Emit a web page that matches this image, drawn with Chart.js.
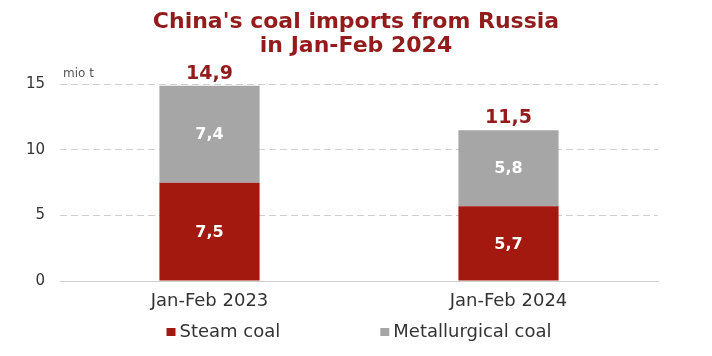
<!DOCTYPE html>
<html>
<head>
<meta charset="utf-8">
<script src="https://cdn.jsdelivr.net/npm/chart.js@4.4.1/dist/chart.umd.min.js"></script>
<style>
  html, body { margin: 0; padding: 0; background: #fff; }
</style>
</head>
<body>
<canvas id="coalChart" width="712" height="356"></canvas>
<script>
// data (mio t)
const periods = ['Jan-Feb 2023', 'Jan-Feb 2024'];
const steamCoal = [7.5, 5.7];
const metCoal = [7.4, 5.8];
const yTicks = [0, 5, 10, 15];

const RED = '#a3180f';
const GREY = '#a6a6a6';
const TITLE_RED = '#921c1c';
const FONT = '"DejaVu Sans", Verdana, sans-serif';

const fmt = v => v.toFixed(1).replace('.', ',');

// labels inside the bars, totals on top, unit, legend
const extras = {
  id: 'extras',
  afterDatasetsDraw(chart) {
    const ctx = chart.ctx;
    ctx.save();
    ctx.textAlign = 'center';
    ctx.textBaseline = 'middle';
    ctx.font = 'bold 16px ' + FONT;
    ctx.fillStyle = '#fff';
    chart.data.datasets.forEach((ds, i) => {
      chart.getDatasetMeta(i).data.forEach((bar, j) => {
        ctx.fillText(fmt(ds.data[j]), bar.x, (bar.y + bar.base) / 2 + 1);
      });
    });
    ctx.font = 'bold 19px ' + FONT;
    ctx.fillStyle = TITLE_RED;
    chart.getDatasetMeta(1).data.forEach((bar, j) => {
      ctx.fillText(fmt(steamCoal[j] + metCoal[j]), bar.x, bar.y - 12);
    });

    // unit
    ctx.textAlign = 'left';
    ctx.font = '12px ' + FONT;
    ctx.fillStyle = '#555';
    ctx.fillText('mio t', chart.chartArea.left + 3, chart.chartArea.top - 11);

    // legend
    ctx.font = '18px ' + FONT;
    const gap = 100, box = 9;
    const items = chart.data.datasets.map(ds => ({
      text: ds.label, color: ds.backgroundColor,
      w: box + 4 + ctx.measureText(ds.label).width
    }));
    const total = items.reduce((s, it) => s + it.w, 0) + gap * (items.length - 1);
    let x = chart.width / 2 + 3 - total / 2;
    const y = 332;
    items.forEach(it => {
      ctx.fillStyle = it.color;
      ctx.fillRect(x, y - 4, box, box - 1);
      ctx.fillStyle = '#333';
      ctx.fillText(it.text, x + box + 4, y);
      x += it.w + gap;
    });
    ctx.restore();
  }
};

new Chart(document.getElementById('coalChart'), {
  type: 'bar',
  data: {
    labels: periods,
    datasets: [
      { label: 'Steam coal', data: steamCoal, backgroundColor: RED, yAxisID: 'y' },
      { label: 'Metallurgical coal', data: metCoal, backgroundColor: GREY, yAxisID: 'y' }
    ]
  },
  options: {
    responsive: false,
    animation: false,
    layout: { padding: 0 },
    categoryPercentage: 1,
    barPercentage: 0.335,
    plugins: {
      legend: { display: false },
      tooltip: { enabled: false },
      title: {
        display: true,
        text: ["China's coal imports from Russia", 'in Jan-Feb 2024'],
        color: TITLE_RED,
        font: { family: FONT, size: 22, weight: 'bold', lineHeight: 1.1 },
        padding: { top: 10, bottom: 26 }
      }
    },
    scales: {
      x: {
        stacked: true,
        grid: { display: false },
        border: { display: true, color: '#cfcfcf' },
        ticks: { color: '#333', font: { family: FONT, size: 18 }, padding: 2 },
        afterFit(scale) { scale.height = 75; }
      },
      y: {
        stacked: true,
        min: 0,
        max: 15,
        afterBuildTicks(scale) { scale.ticks = yTicks.map(v => ({ value: v })); },
        grid: { color: '#d0d0d0', drawTicks: false },
        border: { display: false, dash: [7, 4] },
        ticks: { color: '#333', font: { family: FONT, size: 15 }, padding: 15 },
        afterFit(scale) { scale.width = 60; }
      },
      // empty right margin so the title stays centred on the page
      yRight: {
        position: 'right',
        grid: { display: false },
        border: { display: false },
        ticks: { display: false },
        afterFit(scale) { scale.width = 54; }
      }
    }
  },
  plugins: [extras]
});
</script>
</body>
</html>
